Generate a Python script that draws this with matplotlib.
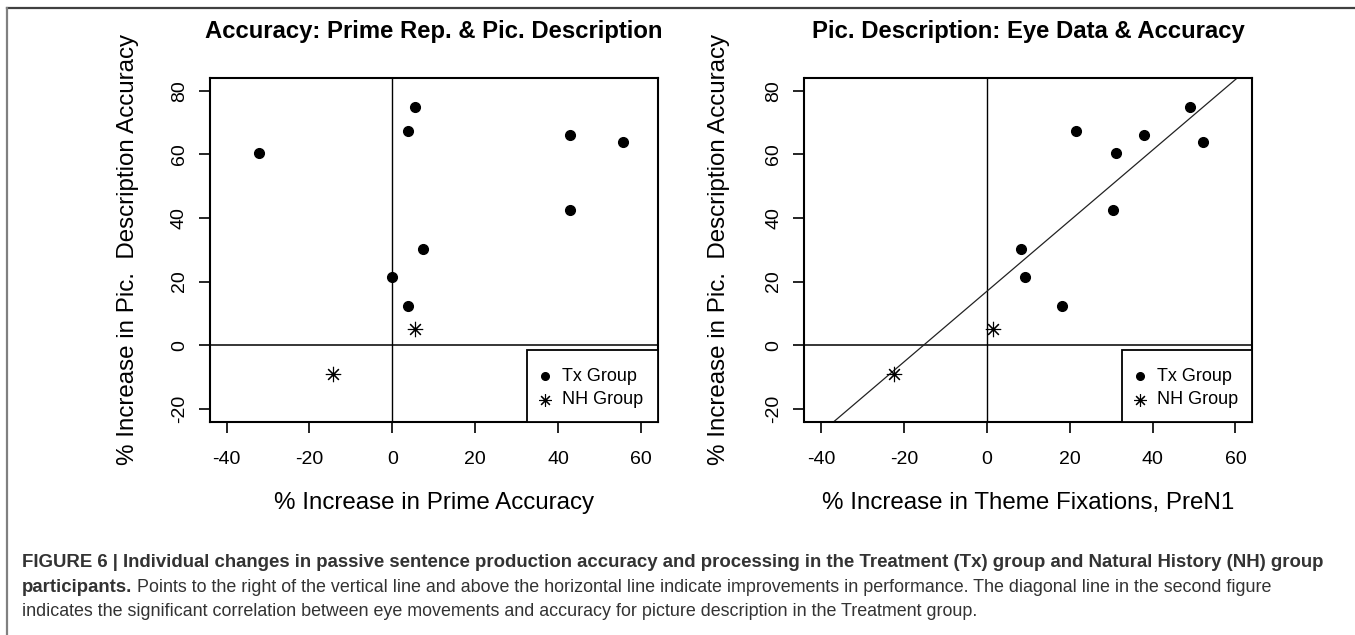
import numpy as np
import matplotlib
matplotlib.use("Agg")
import matplotlib.pyplot as plt
from matplotlib.lines import Line2D
from matplotlib.patches import Rectangle

plt.rcParams['font.family'] = ['Liberation Sans', 'DejaVu Sans']

# y values (% increase in picture description accuracy), shared by both panels
tx_acc = [60.4, 67.4, 74.9, 66.0, 64.0, 42.6, 30.1, 21.3, 12.2]
nh_acc = [5.1, -9.0]

# left panel: % increase in prime accuracy
tx_prime = [-32.1, 3.7, 5.5, 43.0, 55.7, 43.0, 7.3, 0.0, 3.7]
nh_prime = [5.5, -14.2]

# right panel: % increase in theme fixations, PreN1
tx_fix = [31.1, 21.6, 49.1, 38.0, 52.1, 30.4, 8.3, 9.3, 18.2]
nh_fix = [1.5, -22.4]

xticks = [-40, -20, 0, 20, 40, 60]
yticks = [-20, 0, 20, 40, 60, 80]

titles = ["Accuracy: Prime Rep. & Pic. Description",
          "Pic. Description: Eye Data & Accuracy"]
xlabels = ["% Increase in Prime Accuracy",
           "% Increase in Theme Fixations, PreN1"]
ylabel = "% Increase in Pic.  Description Accuracy"
legend_labels = ["Tx Group", "NH Group"]

cap_bold1 = ("FIGURE 6 | Individual changes in passive sentence production accuracy "
             "and processing in the Treatment (Tx) group and Natural History (NH) group")
cap_bold2 = "participants."
cap_rest2 = (" Points to the right of the vertical line and above the horizontal line "
             "indicate improvements in performance. The diagonal line in the second figure")
cap_line3 = ("indicates the significant correlation between eye movements and accuracy "
             "for picture description in the Treatment group.")

W, H = 1355, 635
fig = plt.figure(figsize=(W / 100, H / 100), dpi=100)

star = (8, 2, 0)


def panel(left_px, xs_tx, xs_nh, title, xlabel, ylab_x, fit=False):
    ax = fig.add_axes([left_px / W, 1 - 421.6 / H, 447.5 / W, 343.6 / H])
    ax.set_xlim(-44, 64)
    ax.set_ylim(-24, 84)
    ax.axhline(0, color='black', lw=1.1, zorder=1)
    ax.axvline(0, color='black', lw=1.0, zorder=1)
    if fit:
        m, b = np.polyfit(xs_tx, tx_acc, 1)
        ax.axline((0, b), slope=m, color='#222222', lw=0.9, zorder=1)
    ax.plot(xs_tx, tx_acc, 'o', color='black', ms=7, zorder=3)
    ax.plot(xs_nh, nh_acc, marker=star, ls='none', color='black', ms=11,
            mew=0.8, zorder=3)
    ax.set_xticks(xticks)
    ax.set_yticks(yticks)
    ax.set_xticklabels([str(t) for t in xticks])
    ax.set_yticklabels([str(t) for t in yticks], rotation=90, va='center')
    ax.tick_params(axis='both', direction='out', length=8, width=1.2,
                   labelsize=14)
    ax.tick_params(axis='x', pad=13)
    ax.tick_params(axis='y', pad=8)
    for s in ax.spines.values():
        s.set_linewidth(1.5)
    ax.text(0.5, 1.134, title, transform=ax.transAxes, ha='center',
            va='center', fontsize=17.2, fontweight='bold')
    ax.text(0.5, -0.237, xlabel, transform=ax.transAxes, ha='center',
            va='center', fontsize=17.4)
    ax.text(ylab_x, 0.5, ylabel, transform=ax.transAxes, ha='center',
            va='center', rotation=90, fontsize=17.4)

    # legend box in the lower right corner, R style
    ax.add_patch(Rectangle((0.709, 0), 0.291, 0.2084, transform=ax.transAxes,
                           fill=True, facecolor='white', edgecolor='black',
                           lw=1.3, zorder=4, clip_on=False))
    ax.plot([0.749], [0.1327], 'o', color='black', ms=5.5,
            transform=ax.transAxes, zorder=5, clip_on=False)
    ax.plot([0.749], [0.0629], marker=star, color='black', ms=9, mew=0.8,
            transform=ax.transAxes, zorder=5, clip_on=False)
    ax.text(0.787, 0.1327, legend_labels[0], transform=ax.transAxes,
            va='center', ha='left', fontsize=13, zorder=5)
    ax.text(0.787, 0.0629, legend_labels[1], transform=ax.transAxes,
            va='center', ha='left', fontsize=13, zorder=5)
    return ax


panel(210, tx_prime, nh_prime, titles[0], xlabels[0], -0.183)
panel(804.5, tx_fix, nh_fix, titles[1], xlabels[1], -0.191, fit=True)

# figure frame (top and left edges)
fig.add_artist(Line2D([7.5 / W, 1], [1 - 8.3 / H, 1 - 8.3 / H],
                      color='#404040', lw=1.6, transform=fig.transFigure))
fig.add_artist(Line2D([7.5 / W, 7.5 / W], [0, 1 - 8.3 / H],
                      color='#808080', lw=1.6, transform=fig.transFigure))

# caption
cap_col = '#333333'
bold_fs = 13.45
reg_fs = 12.85
cx = 22 / W
fig.text(cx, 1 - 562.5 / H, cap_bold1, fontsize=bold_fs, fontweight='bold',
         color=cap_col, va='center', ha='left')
t2 = fig.text(cx, 1 - 587.5 / H, cap_bold2, fontsize=bold_fs, fontweight='bold',
              color=cap_col, va='center', ha='left')
fig.canvas.draw()
bb = t2.get_window_extent(fig.canvas.get_renderer())
fig.text(bb.x1 / W, 1 - 587.5 / H, cap_rest2, fontsize=reg_fs, color=cap_col,
         va='center', ha='left')
fig.text(cx, 1 - 612 / H, cap_line3, fontsize=reg_fs, color=cap_col,
         va='center', ha='left')

fig.savefig("out.png", dpi=100)
